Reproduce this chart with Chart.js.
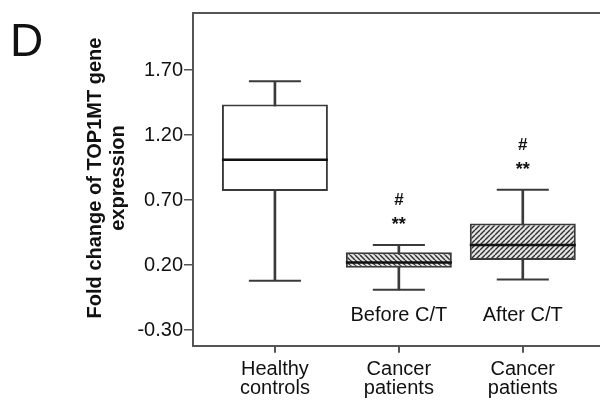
<!DOCTYPE html>
<html>
<head>
<meta charset="utf-8">
<script src="https://cdn.jsdelivr.net/npm/chart.js@4.4.1/dist/chart.umd.min.js"></script>
<style>
  html, body { margin: 0; padding: 0; background: #fff; overflow: hidden; }
</style>
</head>
<body>
<canvas id="c" width="600" height="404"></canvas>
<script>
// data
const groupLabels = [["Healthy", "controls"], ["Cancer", "patients"], ["Cancer", "patients"]];
const subLabels = ["", "Before C/T", "After C/T"];
const groupPos = [1, 2, 3];
const mins = [0.08, 0.01, 0.09];
const q1s = [0.77, 0.18, 0.24];
const medians = [1.01, 0.22, 0.355];
const q3s = [1.435, 0.30, 0.52];
const maxs = [1.615, 0.355, 0.78];
const marks = [[], ["#", "**"], ["#", "**"]];
const yTicks = [-0.30, 0.20, 0.70, 1.20, 1.70];

const FONT = "'Liberation Sans', Arial, sans-serif";
const LINE = "#3a3a3a";
const FRAME = "#555";
const boxWidth = 0.855;   // in x units
const capWidth = 0.42;

const canvas = document.getElementById("c");
const ctx = canvas.getContext("2d");

/* hatch fills */
function hatch(dir) {
  const s = 5;
  const t = document.createElement("canvas");
  t.width = s; t.height = s;
  const g = t.getContext("2d");
  g.fillStyle = "#e4e4e4";
  g.fillRect(0, 0, s, s);
  g.strokeStyle = "#2e2e2e";
  g.lineWidth = 1.4;
  g.beginPath();
  for (let k = -1; k <= 1; k++) {
    if (dir === "back") {
      g.moveTo(k * s, 0); g.lineTo(k * s + s, s);
    } else {
      g.moveTo(k * s, s); g.lineTo(k * s + s, 0);
    }
  }
  g.stroke();
  return ctx.createPattern(t, "repeat");
}
const boxFills = ["#ffffff", hatch("back"), hatch("fwd")];

function halfPx(chart, w) {
  const x = chart.scales.x;
  return (x.getPixelForValue(1 + w / 2) - x.getPixelForValue(1));
}

/* extra drawing: frame top, titles, annotations */
const extras = {
  id: "extras",
  beforeDatasetsDraw(chart) {
    const {ctx, chartArea} = chart;
    ctx.save();
    ctx.strokeStyle = FRAME;
    ctx.lineWidth = 2;
    ctx.beginPath();
    ctx.moveTo(chartArea.left, chartArea.top);
    ctx.lineTo(chartArea.right, chartArea.top);
    ctx.stroke();
    ctx.restore();
  },
  afterDraw(chart) {
    const {ctx, scales} = chart;
    ctx.save();
    ctx.fillStyle = "#111";

    // panel letter
    ctx.font = "46px " + FONT;
    ctx.textAlign = "left";
    ctx.textBaseline = "alphabetic";
    ctx.fillText("D", 10, 56);

    // y axis title
    ctx.save();
    ctx.translate(95, 178);
    ctx.rotate(-Math.PI / 2);
    ctx.font = "bold 20px " + FONT;
    ctx.textAlign = "center";
    ctx.textBaseline = "middle";
    ctx.fillText("Fold change of TOP1MT gene", 0, 0);
    ctx.fillText("expression", 0, 23);
    ctx.restore();

    ctx.textAlign = "center";
    for (let i = 0; i < groupPos.length; i++) {
      const x = scales.x.getPixelForValue(groupPos[i]);
      const yTop = scales.y.getPixelForValue(maxs[i]);
      if (marks[i].length) {
        ctx.font = "bold 17px " + FONT;
        ctx.fillText(marks[i][0], x, yTop - 46 + 6);
        ctx.font = "bold 18px " + FONT;
        ctx.fillText(marks[i][1], x, yTop - 25 + 10);
      }
      if (subLabels[i]) {
        ctx.font = "20px " + FONT;
        ctx.fillText(subLabels[i], x, scales.y.getPixelForValue(-0.23));
      }
    }
    ctx.restore();
  }
};

new Chart(canvas, {
  type: "bar",
  data: {
    datasets: [
      {
        // whiskers
        label: "range",
        data: groupPos.map((p, i) => ({x: p, y: [mins[i], maxs[i]]})),
        backgroundColor: LINE,
        borderWidth: 0,
        barThickness: 2,
        grouped: false,
        order: 3
      },
      {
        // boxes
        label: "iqr",
        data: groupPos.map((p, i) => ({x: p, y: [q1s[i], q3s[i]]})),
        backgroundColor: boxFills,
        borderColor: LINE,
        borderWidth: 2,
        borderSkipped: false,
        categoryPercentage: 1,
        barPercentage: boxWidth,
        grouped: false,
        order: 2
      },
      {
        type: "scatter",
        label: "median",
        data: groupPos.map((p, i) => ({x: p, y: medians[i]})),
        pointStyle: "line",
        pointRadius: (c) => halfPx(c.chart, boxWidth),
        pointBorderColor: "#111",
        pointBorderWidth: 2.5,
        order: 1
      },
      {
        type: "scatter",
        label: "caps",
        data: groupPos.map((p, i) => ({x: p, y: maxs[i]}))
          .concat(groupPos.map((p, i) => ({x: p, y: mins[i]}))),
        pointStyle: "line",
        pointRadius: (c) => halfPx(c.chart, capWidth),
        pointBorderColor: LINE,
        pointBorderWidth: 2,
        order: 1
      }
    ]
  },
  options: {
    responsive: false,
    animation: false,
    events: [],
    layout: { padding: { top: 7, left: 0, right: 0, bottom: 0 } },
    plugins: { legend: { display: false }, tooltip: { enabled: false } },
    scales: {
      x: {
        type: "linear",
        offset: false,
        min: 0.339,
        max: 3.623,
        afterBuildTicks: (s) => { s.ticks = groupPos.map(v => ({value: v})); },
        afterFit: (s) => { s.height = 58.3; },
        ticks: {
          callback: (v) => groupLabels[groupPos.indexOf(v)] || "",
          color: "#111",
          font: { family: FONT, size: 20, lineHeight: 0.95 },
          padding: 7,
          maxRotation: 0,
          autoSkip: false
        },
        grid: { offset: false, drawOnChartArea: false, drawTicks: true, tickLength: 7, color: FRAME, lineWidth: 2 },
        border: { display: true, color: FRAME, width: 2 }
      },
      y: {
        min: -0.42,
        max: 2.14,
        afterBuildTicks: (s) => { s.ticks = yTicks.map(v => ({value: v})); },
        afterFit: (s) => { s.width = 193; },
        ticks: {
          callback: (v) => v.toFixed(2),
          color: "#111",
          font: { family: FONT, size: 20 },
          padding: 1
        },
        grid: { drawOnChartArea: false, drawTicks: true, tickLength: 9, color: FRAME, lineWidth: 1.5 },
        border: { display: true, color: FRAME, width: 2 }
      }
    }
  },
  plugins: [extras]
});
</script>
</body>
</html>
